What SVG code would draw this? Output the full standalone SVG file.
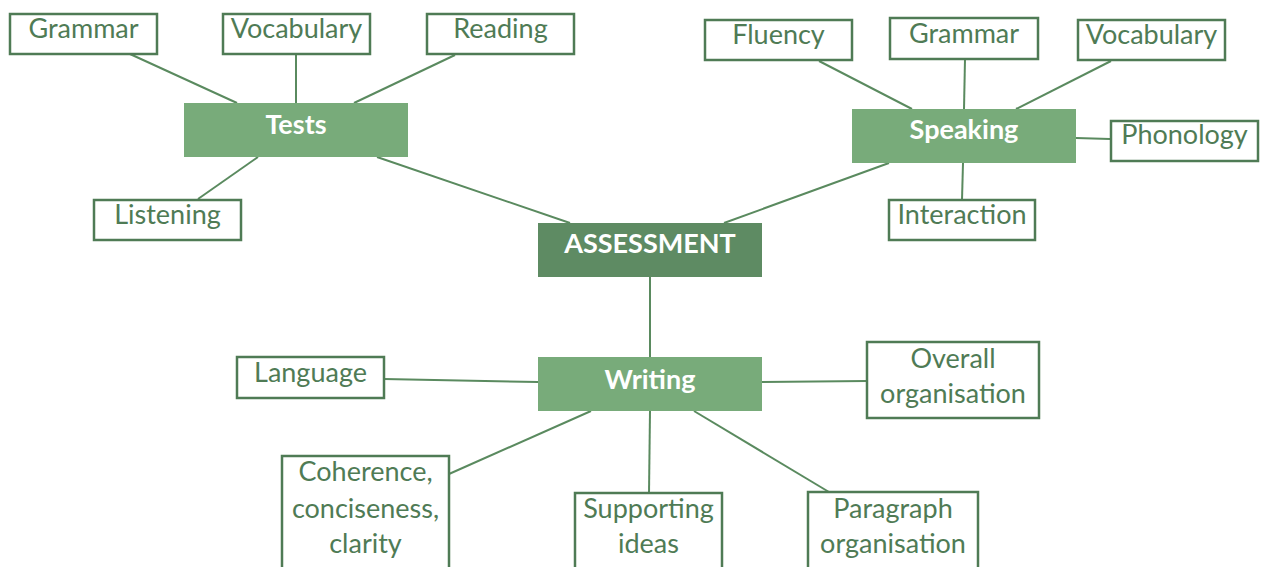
<svg xmlns="http://www.w3.org/2000/svg" width="1265" height="567" viewBox="0 0 1265 567">
<style>
.leaf rect{fill:#fff;stroke:#4f7b55;stroke-width:2.5}
.leaf text{fill:#4f7b55;font-family:Lato,"Noto Sans",sans-serif;font-size:27px;text-anchor:middle}
.hub rect{fill:#78ab7a}
.root rect{fill:#5e8b63}
.hub text,.root text{fill:#fff;font-family:Lato,"Noto Sans",sans-serif;font-weight:bold;font-size:27px;text-anchor:middle}
#connectors line{stroke:#5a8a5f;stroke-width:2}
</style>
<rect width="1265" height="567" fill="#fff"/>
<g id="connectors">
<line x1="130" y1="54" x2="237" y2="103"/>
<line x1="296" y1="54" x2="296" y2="103"/>
<line x1="455" y1="55" x2="354" y2="103"/>
<line x1="198" y1="199" x2="258" y2="157"/>
<line x1="377" y1="157" x2="570" y2="223"/>
<line x1="819" y1="61" x2="912" y2="109"/>
<line x1="965" y1="59" x2="964" y2="109"/>
<line x1="1111" y1="61" x2="1016" y2="109"/>
<line x1="1076" y1="138" x2="1110" y2="139"/>
<line x1="963" y1="163" x2="962" y2="200"/>
<line x1="889" y1="163" x2="724" y2="223"/>
<line x1="650" y1="277" x2="650" y2="357"/>
<line x1="384" y1="379" x2="538" y2="382"/>
<line x1="762" y1="382" x2="867" y2="381"/>
<line x1="449" y1="474" x2="591" y2="411"/>
<line x1="650" y1="411" x2="649" y2="493"/>
<line x1="694" y1="411" x2="829" y2="492"/>
</g>
<g id="assessment" class="root"><rect x="538" y="223" width="224" height="54"/><text x="650" y="253">ASSESSMENT</text></g>
<g id="tests" class="hub"><rect x="184" y="103" width="224" height="54"/><text x="296" y="134">Tests</text></g>
<g id="speaking" class="hub"><rect x="852" y="109" width="224" height="54"/><text x="964" y="139">Speaking</text></g>
<g id="writing" class="hub"><rect x="538" y="357" width="224" height="54"/><text x="650" y="389">Writing</text></g>
<g id="t-grammar" class="leaf"><rect x="10" y="14" width="147" height="40"/><text x="83.5" y="38">Grammar</text></g>
<g id="t-vocabulary" class="leaf"><rect x="223" y="14" width="147" height="40"/><text x="296.5" y="38">Vocabulary</text></g>
<g id="t-reading" class="leaf"><rect x="427" y="14" width="147" height="40"/><text x="500.5" y="38">Reading</text></g>
<g id="t-listening" class="leaf"><rect x="94" y="200" width="147" height="40"/><text x="167.5" y="224">Listening</text></g>
<g id="s-fluency" class="leaf"><rect x="705" y="20" width="147" height="40"/><text x="778.5" y="44">Fluency</text></g>
<g id="s-grammar" class="leaf"><rect x="890" y="18" width="148" height="41"/><text x="964" y="43">Grammar</text></g>
<g id="s-vocabulary" class="leaf"><rect x="1078" y="20" width="147" height="40"/><text x="1151.5" y="44">Vocabulary</text></g>
<g id="s-phonology" class="leaf"><rect x="1111" y="121" width="147" height="40"/><text x="1184.5" y="144">Phonology</text></g>
<g id="s-interaction" class="leaf"><rect x="889" y="200" width="146" height="40"/><text x="962" y="224">Interaction</text></g>
<g id="w-language" class="leaf"><rect x="237" y="357" width="147" height="41"/><text x="310.5" y="382">Language</text></g>
<g id="w-overall" class="leaf"><rect x="867" y="342" width="172" height="76"/><text x="953" y="368">Overall</text><text x="953" y="403">organisation</text></g>
<g id="w-coherence" class="leaf"><rect x="282" y="456" width="167" height="130"/><text x="365.5" y="481">Coherence,</text><text x="365.5" y="518">conciseness,</text><text x="365.5" y="553">clarity</text></g>
<g id="w-supporting" class="leaf"><rect x="575" y="493" width="147" height="90"/><text x="648.5" y="518">Supporting</text><text x="648.5" y="553">ideas</text></g>
<g id="w-paragraph" class="leaf"><rect x="808" y="492" width="170" height="90"/><text x="893" y="518">Paragraph</text><text x="893" y="553">organisation</text></g>
</svg>
